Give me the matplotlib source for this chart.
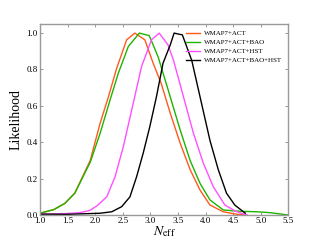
import numpy as np
import matplotlib
matplotlib.use('Agg')
import matplotlib.pyplot as plt

plt.rcParams['font.family'] = ['Liberation Serif', 'DejaVu Serif']
plt.rcParams['mathtext.fontset'] = 'stix'

# WMAP7+ACT
x_act = [1.0, 1.25, 1.45, 1.63, 1.91, 2.09, 2.24, 2.39, 2.57, 2.72, 2.90, 3.05,
         3.20, 3.36, 3.54, 3.72, 3.90, 4.08, 4.32, 4.55, 4.75]
y_act = [0.01, 0.03, 0.064, 0.12, 0.30, 0.505, 0.65, 0.807, 0.963, 1.0, 0.963, 0.835,
         0.72, 0.56, 0.395, 0.25, 0.137, 0.055, 0.018, 0.005, 0.0]

# WMAP7+ACT+BAO
x_bao = [1.0, 1.25, 1.45, 1.63, 1.91, 2.09, 2.27, 2.42, 2.60, 2.80, 2.98, 3.14,
         3.32, 3.54, 3.72, 3.90, 4.08, 4.32, 4.55, 4.69, 4.93, 5.17, 5.5]
y_bao = [0.01, 0.03, 0.064, 0.12, 0.29, 0.45, 0.633, 0.78, 0.926, 1.0, 0.986, 0.87,
         0.69, 0.468, 0.30, 0.174, 0.083, 0.028, 0.022, 0.02, 0.018, 0.013, 0.0]

# WMAP7+ACT+HST
x_hst = [1.0, 1.48, 1.72, 1.90, 2.03, 2.21, 2.36, 2.51, 2.69, 2.84, 3.02, 3.16,
         3.32, 3.42, 3.60, 3.78, 3.96, 4.14, 4.35, 4.55, 4.75]
y_hst = [0.005, 0.008, 0.013, 0.025, 0.05, 0.10, 0.21, 0.376, 0.615, 0.816, 0.963, 1.0,
         0.935, 0.85, 0.65, 0.45, 0.285, 0.156, 0.055, 0.02, 0.0]

# WMAP7+ACT+BAO+HST
x_all = [1.0, 1.5, 2.09, 2.30, 2.48, 2.63, 2.75, 2.87, 2.99, 3.11, 3.23, 3.36,
         3.43, 3.58, 3.75, 3.90, 4.08, 4.23, 4.38, 4.53, 4.72]
y_all = [0.005, 0.004, 0.01, 0.018, 0.046, 0.10, 0.21, 0.34, 0.486, 0.65, 0.835, 0.935,
         1.0, 0.99, 0.85, 0.65, 0.41, 0.25, 0.12, 0.055, 0.01]

fig = plt.figure(figsize=(3.2, 2.4), dpi=100)
ax = fig.add_axes([0.125, 0.104, 0.776, 0.796])

lw = 1.0
ax.plot(x_act, y_act, color='#ff5a1e', lw=lw, label='WMAP7+ACT')
ax.plot(x_bao, y_bao, color='#1eb400', lw=lw, label='WMAP7+ACT+BAO')
ax.plot(x_hst, y_hst, color='#ff50ff', lw=lw, label='WMAP7+ACT+HST')
ax.plot(x_all, y_all, color='black', lw=lw, label='WMAP7+ACT+BAO+HST')

ax.set_xlim(1.0, 5.5)
ax.set_ylim(0.0, 1.05)
ax.set_xticks(np.arange(1.0, 5.51, 0.5))
ax.set_yticks(np.arange(0.0, 1.01, 0.2))
ax.xaxis.set_major_formatter(matplotlib.ticker.FormatStrFormatter('%.1f'))
ax.yaxis.set_major_formatter(matplotlib.ticker.FormatStrFormatter('%.1f'))
ax.tick_params(direction='in', top=True, right=True, length=2.5, width=0.6,
               color='#888888', labelsize=6.5, pad=1.5)
for s in ax.spines.values():
    s.set_color('#999999')
    s.set_linewidth(1.0)

ax.set_xlabel(r'$N_{\rm eff}$', fontsize=10, labelpad=-1)
ax.set_ylabel('Likelihood', fontsize=10, labelpad=3)

leg = ax.legend(loc='upper right', frameon=False, fontsize=5, handlelength=2.0,
                borderaxespad=0.5, labelspacing=0.45, handletextpad=0.6)

fig.savefig('out.png', dpi=100)
